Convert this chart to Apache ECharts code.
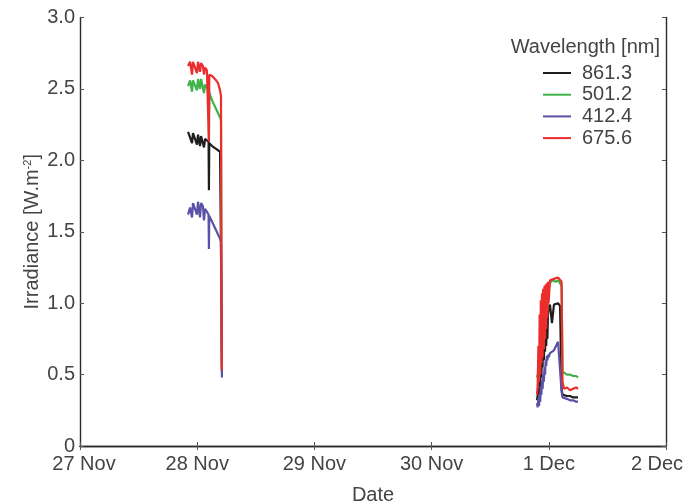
<!DOCTYPE html>
<html>
<head>
<meta charset="utf-8">
<script src="https://cdn.jsdelivr.net/npm/echarts@6/dist/echarts.min.js"></script>
<style>html,body{margin:0;padding:0;background:#fff;overflow:hidden}#c{width:686px;height:504px;overflow:hidden}</style>
</head>
<body>
<div id="c"></div>
<script>
// x values: day of November (31 = 1 Dec)
const tickLabels = ['27 Nov', '28 Nov', '29 Nov', '30 Nov', '1 Dec', '2 Dec'];
const seriesNames = ['861.3', '501.2', '412.4', '675.6'];
const seriesColors = ['#1e1e1e', '#3fb24a', '#5a52a6', '#ec2d2c'];

// First measurement window (28 Nov)
const timesA = [27.922, 27.939, 27.956, 27.964, 27.981, 27.998, 28.007, 28.024, 28.033, 28.049,
  28.058, 28.067, 28.083, 28.097, 28.100, 28.103, 28.109, 28.127, 28.144, 28.161,
  28.178, 28.195, 28.203, 28.207, 28.211];
const black_A = [2.20, 2.19, 2.12, 2.19, 2.18, 2.11, 2.18, 2.10, 2.17, 2.16,
  2.09, 2.15, 2.14, 2.13, 1.79, 2.12, 2.12, 2.10, 2.09, 2.08,
  2.07, 2.06, 2.05, 1.00, 0.52];
const green_A = [2.52, 2.56, 2.48, 2.56, 2.57, 2.49, 2.57, 2.50, 2.57, 2.56,
  2.47, 2.53, 2.51, 2.49, 2.15, 2.48, 2.46, 2.42, 2.39, 2.36,
  2.33, 2.30, 2.28, 0.90, 0.55];
const blue_A = [1.62, 1.67, 1.60, 1.70, 1.71, 1.62, 1.71, 1.60, 1.70, 1.68,
  1.58, 1.66, 1.64, 1.62, 1.38, 1.61, 1.60, 1.57, 1.54, 1.51,
  1.48, 1.45, 1.43, 0.80, 0.48];
const red_A = [2.66, 2.69, 2.60, 2.69, 2.70, 2.61, 2.69, 2.62, 2.68, 2.66,
  2.60, 2.65, 2.63, 2.62, 2.13, 2.60, 2.60, 2.59, 2.58, 2.56,
  2.54, 2.49, 2.45, 1.20, 0.53];

// Second measurement window (1 Dec)
const timesB = [30.899, 30.905, 30.911, 30.917, 30.922, 30.927, 30.932, 30.937, 30.942, 30.947,
  30.952, 30.958, 30.963, 30.968, 30.973, 30.978, 30.983, 30.988, 30.993, 30.998,
  31.010, 31.027, 31.044, 31.061, 31.079, 31.096, 31.109, 31.117,
  31.130, 31.155, 31.181, 31.207, 31.233, 31.249];
const black_B = [0.32, 0.35, 0.40, 0.36, 0.50, 0.42, 0.62, 0.48, 0.70, 0.55,
  0.76, 0.60, 0.80, 0.66, 0.84, 0.70, 0.86, 0.75, 0.92, 0.96,
  0.99, 0.86, 0.99, 0.99, 1.00, 0.98, 0.40, 0.36,
  0.35, 0.35, 0.35, 0.34, 0.34, 0.34];
const green_B = [0.48, 0.50, 0.51, 0.52, 0.70, 0.56, 0.92, 0.62, 1.00, 0.70,
  1.05, 0.78, 1.08, 0.85, 1.10, 0.90, 1.12, 0.95, 1.13, 1.10,
  1.14, 1.16, 1.17, 1.15, 1.16, 1.14, 1.12, 0.52,
  0.51, 0.50, 0.50, 0.49, 0.49, 0.48];
const blue_B = [0.30, 0.27, 0.33, 0.28, 0.36, 0.31, 0.42, 0.36, 0.46, 0.40,
  0.50, 0.45, 0.55, 0.50, 0.60, 0.56, 0.63, 0.60, 0.64, 0.62,
  0.65, 0.66, 0.67, 0.70, 0.73, 0.72, 0.38, 0.34,
  0.34, 0.33, 0.32, 0.32, 0.31, 0.31];
const red_B = [0.36, 0.42, 0.70, 0.45, 0.92, 0.50, 1.02, 0.58, 1.07, 0.62,
  1.10, 0.68, 1.12, 0.75, 1.13, 0.82, 1.14, 0.90, 1.15, 1.00,
  1.16, 1.17, 1.17, 1.18, 1.18, 1.17, 1.15, 0.45,
  0.40, 0.41, 0.39, 0.40, 0.41, 0.40];

const valuesA = [black_A, green_A, blue_A, red_A];
const valuesB = [black_B, green_B, blue_B, red_B];

function buildData(a, b) {
  const d = timesA.map((t, i) => [t, a[i]]);
  d.push([29.5, '-']);
  timesB.forEach((t, i) => d.push([t, b[i]]));
  return d;
}

const FONT = "'Liberation Sans', Arial, sans-serif";
const TXT = '#444';
const FS = 20;
const chart = echarts.init(document.getElementById('c'), null, {renderer: 'canvas', width: 686, height: 504});

const axisLine = {show: true, lineStyle: {color: '#2a2a2a', width: 1.4}};
const tick = {show: true, inside: true, length: 4, lineStyle: {color: '#555', width: 1}};

chart.setOption({
  animation: false,
  backgroundColor: '#fff',
  grid: {left: 80, right: 20, top: 17.5, bottom: 58, containLabel: false, outerBoundsMode: 'none'},
  graphic: [{
    type: 'text', right: 26, top: 37,
    style: {text: 'Wavelength [nm]', font: FS + 'px ' + FONT, fill: TXT}
  }],
  legend: {
    data: seriesNames,
    orient: 'vertical',
    left: 538, top: 58,
    icon: 'rect',
    itemWidth: 28, itemHeight: 2,
    itemGap: 1.7,
    textStyle: {fontFamily: FONT, fontSize: FS, color: TXT, lineHeight: 20, padding: [0, 0, 0, 6]}
  },
  xAxis: [{
    type: 'value', min: 27, max: 32, interval: 1, position: 'bottom',
    name: 'Date', nameLocation: 'middle', nameGap: 39,
    nameTextStyle: {fontFamily: FONT, fontSize: FS, color: TXT},
    axisLine: axisLine, axisTick: tick, splitLine: {show: false},
    axisLabel: {fontFamily: FONT, fontSize: FS, color: TXT, margin: 8,
      formatter: v => {
        const i = Math.round(v - 27);
        if (i === 0) return '{first|' + tickLabels[i] + '}';
        if (i === tickLabels.length - 1) return '{last|' + tickLabels[i] + '}';
        return tickLabels[i];
      },
      rich: {
        first: {fontFamily: FONT, fontSize: FS, color: TXT, padding: [0, 0, 0, 8]},
        last: {fontFamily: FONT, fontSize: FS, color: TXT, padding: [0, 18, 0, 0]}
      }}
  }, {
    type: 'value', min: 27, max: 32, interval: 1, position: 'top',
    axisLine: axisLine, axisTick: tick, splitLine: {show: false}, axisLabel: {show: false}
  }],
  yAxis: [{
    type: 'value', min: 0, max: 3, interval: 0.5, position: 'left',
    name: 'Irradiance [W.m{sup|-2}]', nameLocation: 'middle', nameGap: 38, nameRotate: 90,
    nameMoveOverlap: false,
    nameTextStyle: {fontFamily: FONT, fontSize: FS, color: TXT,
      rich: {sup: {fontFamily: FONT, fontSize: 11, color: TXT, verticalAlign: 'top', padding: [0, 0, 9, 0]}}},
    axisLine: axisLine, axisTick: tick, splitLine: {show: false},
    axisLabel: {fontFamily: FONT, fontSize: FS, color: TXT, margin: 5,
      formatter: v => v === 0 ? '0' : v.toFixed(1)}
  }, {
    type: 'value', min: 0, max: 3, interval: 0.5, position: 'right',
    axisLine: axisLine, axisTick: tick, splitLine: {show: false}, axisLabel: {show: false}
  }],
  series: seriesNames.map((n, i) => ({
    name: n, type: 'line', xAxisIndex: 0, yAxisIndex: 0,
    data: buildData(valuesA[i], valuesB[i]),
    showSymbol: false, symbol: 'none', connectNulls: false,
    color: seriesColors[i],
    lineStyle: {color: seriesColors[i], width: 2.2}
  }))
});
</script>
</body>
</html>
